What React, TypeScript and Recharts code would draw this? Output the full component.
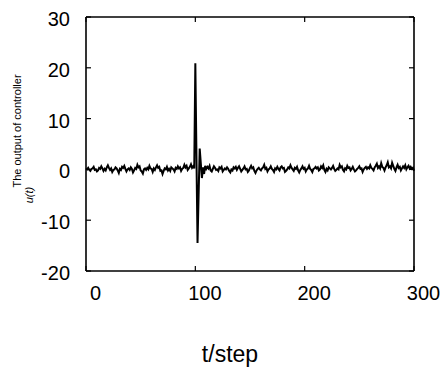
import React from 'react';
import { LineChart, Line, XAxis, YAxis, ReferenceLine } from 'recharts';

// controller output u(t), one value per step t = 0..300
const uValues: number[] = [
  0.2, 0.0, 0.3, -0.1, -0.3, 0.1, 0.2, 0.5, -0.1, 0.0, -0.4, -0.2, 0.3, 0.1, 0.6, 0.2, -0.3, 0.1, -0.2, 0.4,
  0.8, 0.3, -0.1, 0.2, -0.5, -0.1, 0.0, 0.4, 0.2, -0.2, -0.7, 0.1, -0.1, 0.5, 0.3, 0.7, 0.1, -0.4, 0.0, 0.2,
  -0.1, 0.4, 0.1, -0.6, -0.2, 0.3, 0.1, 0.9, 0.4, 0.6, -0.2, -0.4, -0.8, 0.0, 0.2, -0.1, 0.3, 0.0, 0.7, 0.2,
  0.1, -0.5, 0.2, -0.1, 0.4, 0.8, 0.3, 0.5, -0.3, -0.2, -0.9, -0.3, 0.2, 0.0, 0.5, -0.2, 0.1, -0.3, 0.4, 0.2,
  0.0, -0.4, 0.3, 0.1, 0.6, 0.2, 0.4, -0.3, 0.1, 0.3, 0.9, 0.4, 0.7, -0.1, 0.2, 0.5, 1.0, 0.3, 0.6, 0.2,
  20.9, 3.0, -14.5, -5.0, 4.1, 1.2, -1.7, 0.4, -0.9, 0.7,
  0.1, 0.5, 0.2, 0.7, -0.2, -0.4, 0.1, 0.6, 0.3, -0.1, 0.0, -0.3, 0.4, 0.2, 0.5, -0.4, -0.1, 0.2, 0.0, 0.4,
  0.1, -0.3, -0.6, 0.0, -0.2, 0.4, 0.2, 0.5, -0.1, 0.3, 0.6, 0.1, -0.4, -0.1, 0.2, 0.6, 0.0, 0.1, -0.5, -0.2,
  0.3, 0.7, 0.2, 0.4, -0.3, -0.7, -0.2, 0.1, 0.3, 0.0, -0.2, 0.2, 0.4, 0.9, 0.1, 0.3, -0.4, 0.0, 0.2, 0.6,
  0.1, -0.1, -0.5, 0.2, 0.0, 0.5, 0.1, -0.2, 0.4, 0.6, 0.2, 0.3, -0.5, -0.3, 0.0, 0.4, 0.2, 0.8, 0.3, 0.0,
  -0.3, 0.3, 0.1, 0.5, -0.2, -0.6, -0.1, 0.2, 0.6, 0.1, 0.3, -0.4, 0.0, 0.2, 0.7, 0.1, -0.1, -0.5, 0.1, 0.2,
  0.5, 0.2, 0.4, -0.2, 0.0, 0.6, 0.3, 0.8, -0.1, -0.5, 0.1, -0.2, 0.4, 0.2, 0.0, 0.3, 0.7, 0.1, -0.3, -0.1,
  0.2, 0.0, 0.9, 0.4, 0.6, -0.1, -0.4, 0.2, 0.0, 0.7, 0.3, 0.4, -0.2, 0.1, 0.5, 0.0, -0.4, -0.2, 0.1, 0.3,
  0.6, 0.1, 0.2, -0.5, 0.0, 0.3, 0.5, 0.1, 0.4, 0.2, 0.8, 0.3, 0.1, -0.2, 0.4, 0.7, 1.1, 0.3, 0.6, 0.2,
  1.2, 0.5, 0.3, -0.2, 0.4, 0.8, 1.4, 0.4, 0.6, 0.2, 1.3, 0.7, 0.1, -0.3, 0.4, 0.9, 0.3, 0.5, -0.2, 0.2,
  0.6, 0.3, 0.8, 0.0, 0.4, 0.7, 0.2, 0.5, 0.1, 0.3, -0.3,
];

const xTicks = [0, 100, 200, 300];
const yTicks = [-20, -10, 0, 10, 20, 30];

const data = uValues.map((u, t) => ({ t, u }));

const FONT = '"Liberation Sans", Arial, Helvetica, sans-serif';
const PLOT_TOP = 17;
const PLOT_RIGHT = 414;
const TICK_LEN = 5;

const XTick = (props: any) => {
  const { x, y, payload } = props;
  return (
    <g>
      <line x1={x} y1={y} x2={x} y2={y - TICK_LEN} stroke="#000" strokeWidth={1.2} />
      <line x1={x} y1={PLOT_TOP} x2={x} y2={PLOT_TOP + TICK_LEN} stroke="#000" strokeWidth={1.2} />
      <text x={x + 9.5} y={y + 22} textAnchor="middle" dominantBaseline="central" fontSize={20} fontFamily={FONT} fill="#000">
        {payload.value}
      </text>
    </g>
  );
};

const YTick = (props: any) => {
  const { x, y, payload } = props;
  return (
    <g>
      <line x1={x} y1={y} x2={x + TICK_LEN} y2={y} stroke="#000" strokeWidth={1.2} />
      <line x1={PLOT_RIGHT} y1={y} x2={PLOT_RIGHT - TICK_LEN} y2={y} stroke="#000" strokeWidth={1.2} />
      <text x={x - 16} y={y + 2} textAnchor="end" dominantBaseline="central" fontSize={20} fontFamily={FONT} fill="#000">
        {payload.value}
      </text>
    </g>
  );
};

const YTitle = () => (
  <g fontFamily={FONT} fill="#000" fontSize={11}>
    <text transform="translate(21,131) rotate(-90)" textAnchor="middle">
      The output of controller
    </text>
    <text transform="translate(33,195) rotate(-90)" textAnchor="middle" fontStyle="italic">
      u(t)
    </text>
  </g>
);

const XTitle = () => (
  <text x={230} y={362} textAnchor="middle" fontSize={23} fontFamily={FONT} fill="#000">
    t/step
  </text>
);

export default function App() {
  return (
    <div style={{ position: 'absolute', left: 0, top: 0, background: '#fff' }}>
      <LineChart width={441} height={371} data={data} margin={{ top: PLOT_TOP, right: 441 - PLOT_RIGHT, bottom: 0, left: 0 }}>
        <XAxis
          dataKey="t"
          type="number"
          domain={[0, 300]}
          ticks={xTicks}
          height={100}
          tickSize={0}
          tickMargin={0}
          tickLine={false}
          axisLine={{ stroke: '#000', strokeWidth: 1.6 }}
          tick={<XTick />}
          label={{ content: () => <XTitle /> }}
        />
        <YAxis
          type="number"
          domain={[-20, 30]}
          ticks={yTicks}
          width={86}
          tickSize={0}
          tickMargin={0}
          tickLine={false}
          axisLine={{ stroke: '#000', strokeWidth: 1.6 }}
          tick={<YTick />}
          label={{ content: () => <YTitle /> }}
        />
        <ReferenceLine y={30} stroke="#000" strokeWidth={1.6} />
        <ReferenceLine x={300} stroke="#000" strokeWidth={1.6} />
        <Line
          type="linear"
          dataKey="u"
          stroke="#000"
          strokeWidth={2}
          dot={false}
          isAnimationActive={false}
        />
      </LineChart>
    </div>
  );
}
